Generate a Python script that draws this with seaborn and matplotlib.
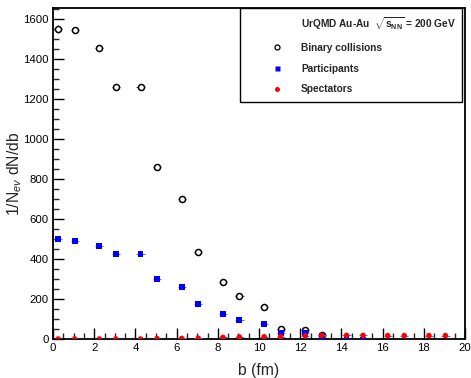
import numpy as np
import pandas as pd
import matplotlib
matplotlib.use("Agg")
import matplotlib.pyplot as plt
from matplotlib.lines import Line2D
from matplotlib.ticker import MultipleLocator
import seaborn as sns

# ---- data ----
b_all = [0.25, 1.05, 2.25, 3.05, 4.25, 5.05, 6.25, 7.05, 8.25, 9.05,
         10.25, 11.05, 12.25, 13.05, 14.25, 15.05, 16.25, 17.05, 18.25, 19.05]
binary = [1550, 1545, 1453, 1262, 1260, 858, 698, 433, 285, 215,
          158, 52, 47, 18]
binary_err = [18, 14, 12, 10, 10, 8, 6, 5, 4, 3, 3, 2, 2, 1]
participants = [498, 488, 463, 423, 423, 298, 258, 173, 123, 93,
                75, 30, 30, 15, 0, -3]
participants_err = [6, 5, 5, 4, 4, 4, 3, 3, 2, 2, 2, 1, 1, 1, 1, 1]
spectators = [0, 0, 0, 0, 0, 2, 3, 4, 8, 10,
              11, 12, 16, 18, 18, 18, 17, 17, 17, 17]
b_err = 0.2

legend_title = r"UrQMD Au-Au  $\sqrt{\mathbf{s}_{\mathbf{NN}}}$ = 200 GeV"
labels = ["Binary collisions", "Participants", "Spectators"]

df_bin = pd.DataFrame({"b": b_all[:len(binary)], "v": binary, "e": binary_err})
df_par = pd.DataFrame({"b": b_all[:len(participants)], "v": participants, "e": participants_err})
df_spe = pd.DataFrame({"b": b_all[:len(spectators)], "v": spectators})

sns.set_style("ticks")
plt.rcParams["font.family"] = ["Liberation Sans", "DejaVu Sans"]
plt.rcParams["mathtext.fontset"] = "custom"
plt.rcParams["mathtext.rm"] = "Liberation Sans"
plt.rcParams["mathtext.it"] = "Liberation Sans:italic"
plt.rcParams["mathtext.bf"] = "Liberation Sans:bold"

fig = plt.figure(figsize=(4.71, 3.78), dpi=100)
ax = fig.add_axes([53 / 471, 39 / 378, 412 / 471, 331 / 378])

errc = "#3c3cc8"
ax.errorbar(df_bin["b"], df_bin["v"], xerr=b_err, yerr=df_bin["e"], fmt="none",
            ecolor=errc, elinewidth=0.8, capsize=0, zorder=2)
sns.scatterplot(data=df_bin, x="b", y="v", ax=ax, marker="o", s=19,
                facecolor="white", edgecolor="black", linewidth=1.1, zorder=3)
ax.errorbar(df_par["b"], df_par["v"], xerr=b_err, yerr=df_par["e"], fmt="none",
            ecolor="#6a6ae0", elinewidth=0.8, capsize=0, zorder=4)
sns.scatterplot(data=df_par, x="b", y="v", ax=ax, marker="s", s=18,
                color="#0000ff", edgecolor="none", linewidth=0, zorder=5)
ax.errorbar(df_spe["b"], df_spe["v"], xerr=b_err, fmt="none",
            ecolor="#6a6ae0", elinewidth=0.8, capsize=0, zorder=6)
sns.scatterplot(data=df_spe, x="b", y="v", ax=ax, marker="o", s=16,
                color="#ff0000", edgecolor="none", linewidth=0, zorder=7)

ax.set_xlim(0, 20)
ax.set_ylim(0, 1655)
ax.xaxis.set_major_locator(MultipleLocator(2))
ax.xaxis.set_minor_locator(MultipleLocator(0.5))
ax.yaxis.set_major_locator(MultipleLocator(200))
ax.yaxis.set_minor_locator(MultipleLocator(50))
ax.tick_params(which="major", direction="in", length=8, width=1.0,
               labelsize=8.2, pad=3, colors="black")
ax.tick_params(which="minor", direction="in", length=4, width=1.0)
ax.tick_params(top=False, right=False, which="both")
for sp in ax.spines.values():
    sp.set_linewidth(1.3)
    sp.set_color("black")
    sp.set_visible(True)

ax.set_xlabel("b (fm)", fontsize=11.3, labelpad=7)
ax.set_ylabel(r"1/N$_{ev}$ dN/db", fontsize=11.3)
ax.yaxis.set_label_coords(-0.07, 0.5)

handles = [
    Line2D([], [], linestyle="none", marker=None, label=legend_title),
    Line2D([], [], linestyle="none", marker="o", markersize=3.6, markerfacecolor="white",
           markeredgecolor="black", markeredgewidth=0.9, label=labels[0]),
    Line2D([], [], linestyle="none", marker="s", markersize=3.6, markerfacecolor="#0000ff",
           markeredgecolor="none", label=labels[1]),
    Line2D([], [], linestyle="none", marker="o", markersize=3.6, markerfacecolor="#ff0000",
           markeredgecolor="none", label=labels[2]),
]
leg = ax.legend(handles=handles, loc="upper left",
                bbox_to_anchor=(0.454, 0.0, 0.539, 1.0), mode="expand",
                frameon=True, fancybox=False, edgecolor="black", framealpha=1,
                prop={"weight": "bold", "size": 7.3}, handlelength=5.8,
                handletextpad=-0.5, labelspacing=1.07, borderpad=0.7, borderaxespad=0)
leg.get_frame().set_linewidth(1.0)
leg.set_zorder(10)

fig.savefig("out.png", dpi=100)
